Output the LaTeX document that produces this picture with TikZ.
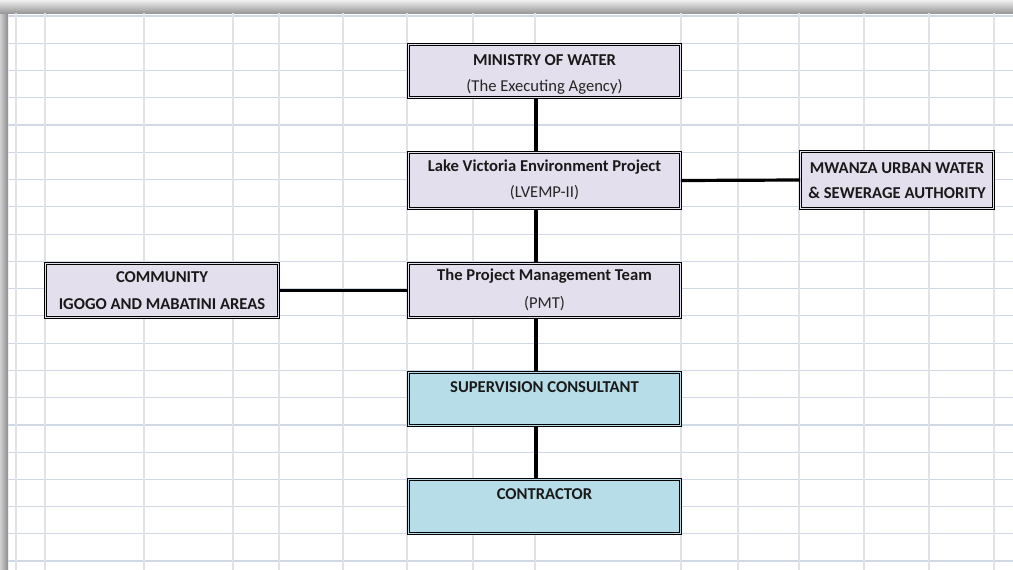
\documentclass[tikz,border=0pt]{standalone}
\usepackage{fontspec}
\setmainfont{Carlito}
\definecolor{gridh}{HTML}{D0D7E5}
\definecolor{gridv}{HTML}{DFE2E7}
\definecolor{lav}{HTML}{E4DFEC}
\definecolor{aqua}{HTML}{B7DEE8}
\tikzset{
  orgbox/.style={draw=black, line width=0.9pt, double distance=1.4pt, inner sep=0pt, rectangle},
  lavbox/.style={orgbox, fill=lav, double=lav},
  aquabox/.style={orgbox, fill=aqua, double=aqua},
  tb/.style={font=\fontsize{16.6}{19}\selectfont\bfseries, inner sep=0pt, text=black!90},
  tr/.style={font=\fontsize{16.6}{19}\selectfont, inner sep=0pt, text=black!85},
  conn/.style={line width=3.2pt, black}
}
\begin{document}
\begin{tikzpicture}[x=1pt,y=-1pt]
\useasboundingbox (0,0) rectangle (1013,570);
\fill[white] (0,0) rectangle (1013,570);
% shadow
\shade[left color=black!18, right color=black!45] (0,0) rectangle (8,570);
\shade[top color=black!6, bottom color=black!40] (0,0) rectangle (1013,13);
% grid
\foreach \k in {0,...,20} {
  \draw[gridh, line width=1pt] (8,16+27.25*\k) -- (1013,16+27.25*\k);
}
\foreach \yy in {16,125,397.5,424.75,561} {
  \draw[gridh, line width=1.8pt] (8,\yy) -- (1013,\yy);
}
\foreach \xx in {16,45,144,233,279,343,407,473,535,681,738,799,864,929,994} {
  \draw[gridv, line width=1.2pt] (\xx,13) -- (\xx,570);
}
% boxes
\node[lavbox, minimum width=271.8pt, minimum height=52.8pt] (min) at (544.5,71) {};
\node[lavbox, minimum width=271.8pt, minimum height=55.8pt] (lv) at (544.5,180.5) {};
\node[lavbox, minimum width=192.8pt, minimum height=56.8pt] (mw) at (897,180) {};
\node[lavbox, minimum width=232.8pt, minimum height=53.8pt] (com) at (162,290.5) {};
\node[lavbox, minimum width=271.8pt, minimum height=53.8pt] (pmt) at (544.5,290.5) {};
\node[aquabox, minimum width=271.8pt, minimum height=52.8pt] (sup) at (544.5,399) {};
\node[aquabox, minimum width=271.8pt, minimum height=53.8pt] (con) at (544.5,506.5) {};
% texts
\node[tb] (minA) at (544.5,60) {MINISTRY OF WATER};
\node[tr] (minB) at (544.5,87) {(The Executing Agency)};
\node[tb] (lvA) at (544.5,167) {Lake Victoria Environment Project};
\node[tr] (lvB) at (544.5,193) {(LVEMP-II)};
\node[tb] (mwA) at (897,168) {MWANZA URBAN WATER};
\node[tb] (mwB) at (897,193) {\& SEWERAGE AUTHORITY};
\node[tb] (comA) at (162,277) {COMMUNITY};
\node[tb] (comB) at (162,304) {IGOGO AND MABATINI AREAS};
\node[tb] (pmtA) at (544.5,276) {The Project Management Team};
\node[tr] (pmtB) at (544.5,304) {(PMT)};
\node[tb] (supA) at (544.5,387) {SUPERVISION CONSULTANT};
\node[tb] (conA) at (544.5,494) {CONTRACTOR};
% connectors
\coordinate (vx) at (536,0);
\draw[conn] (min.south -| vx) -- (lv.north -| vx);
\draw[conn] (lv.south -| vx) -- (pmt.north -| vx);
\draw[conn] (pmt.south -| vx) -- (sup.north -| vx);
\draw[conn] (sup.south -| vx) -- (con.north -| vx);
\draw[conn] (lv.east) -- (mw.west);
\draw[conn] (com.east) -- (pmt.west);
\end{tikzpicture}
\end{document}
